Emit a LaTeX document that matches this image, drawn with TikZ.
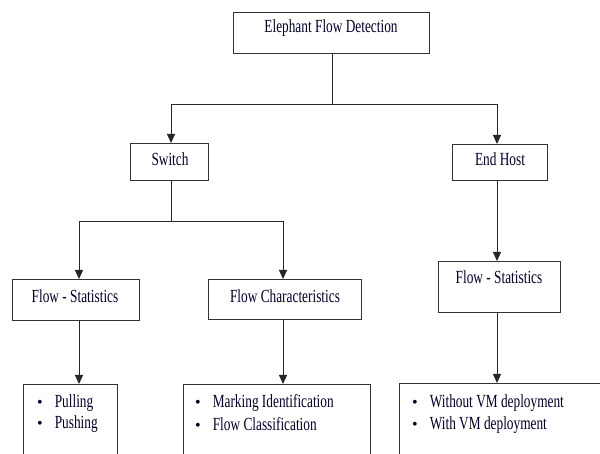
\documentclass[tikz,border=0pt]{standalone}
\usepackage{fontspec}
\setmainfont{Liberation Serif}
\usetikzlibrary{arrows.meta,calc}
\tikzset{
  box/.style={draw=black!80,line width=1.2pt,rectangle,inner sep=0pt},
  lbl/.style={inner sep=0pt,font=\fontsize{18.5}{22}\selectfont,text=black!85!blue},
  conn/.style={line width=1pt,draw=black!85},
  arr/.style={conn,-{Triangle[width=8pt,length=9pt]}},
}
\newcommand{\boxat}[5]{% name, x1,y1,x2,y2
  \node[box,minimum width={#4-#2},minimum height={#5-#3},anchor=north west] (#1) at (#2,#3) {};}
\newcommand{\nt}[1]{\scalebox{0.72}[1]{#1}}
\newcommand{\bul}[1]{{\fontsize{16}{20}\selectfont\textbullet}\hspace{12pt}\scalebox{0.72}[1]{#1}}
\begin{document}
\begin{tikzpicture}[x=1pt,y=-1pt]
\useasboundingbox (0,0) rectangle (600,454);
\clip (0,0) rectangle (600,454);
% boxes
\boxat{top}{233}{12}{429}{53}
\boxat{sw}{130}{143}{208}{180}
\boxat{eh}{452}{144}{547}{180}
\boxat{fsl}{12}{279}{139}{320}
\boxat{fc}{208}{279}{361}{319}
\boxat{fsr}{438}{261}{560}{312}
\boxat{bl}{23}{384}{117}{480}
\boxat{bm}{183}{384}{370}{480}
\boxat{br}{399}{383}{640}{480}
% labels
\node[lbl] (ttop) at (331,28) {\nt{Elephant Flow Detection}};
\node[lbl] (tsw) at (170,159) {\nt{Switch}};
\node[lbl] (teh) at (500,159) {\nt{End Host}};
\node[lbl] (tfsl) at (75,296) {\nt{Flow - Statistics}};
\node[lbl] (tfc) at (285,296) {\nt{Flow Characteristics}};
\node[lbl] (tfsr) at (499,277) {\nt{Flow - Statistics}};
% bullet lists
\node[lbl,anchor=west] (b1) at (37,403) {\bul{Pulling}};
\node[lbl,anchor=west] (b2) at (37,424) {\bul{Pushing}};
\node[lbl,anchor=west] (m1) at (195,403) {\bul{Marking Identification}};
\node[lbl,anchor=west] (m2) at (195,424) {\bul{Flow Classification}};
\node[lbl,anchor=west] (r1) at (412,403) {\bul{Without VM deployment}};
\node[lbl,anchor=west] (r2) at (412,425) {\bul{With VM deployment}};
% connectors
\coordinate (j1) at (332,105);
\coordinate (j2) at (171,222);
\coordinate (xl) at (79,0);
\coordinate (xc) at (283,0);
\coordinate (xr) at (497,0);
\draw[conn] (top.south -| j1) -- (j1);
\draw[arr] (j1) -| (sw.north -| j2);
\draw[arr] (j1) -| (eh.north -| xr);
\draw[conn] (sw.south -| j2) -- (j2);
\draw[arr] (j2) -| (fsl.north -| xl);
\draw[arr] (j2) -| (fc.north -| xc);
\draw[arr] (eh.south -| xr) -- (fsr.north -| xr);
\draw[arr] (fsl.south -| xl) -- (bl.north -| xl);
\draw[arr] (fc.south -| xc) -- (bm.north -| xc);
\draw[arr] (fsr.south -| xr) -- (br.north -| xr);
\end{tikzpicture}
\end{document}
